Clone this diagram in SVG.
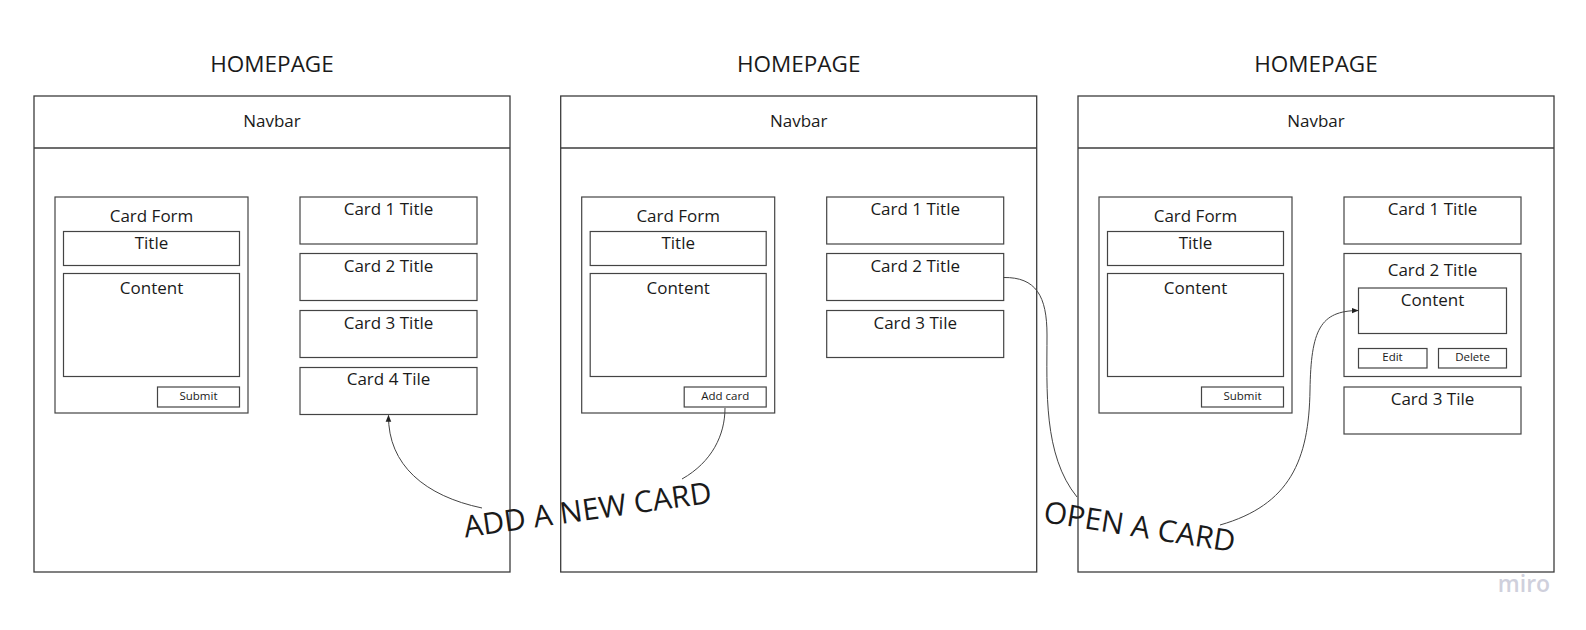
<svg xmlns="http://www.w3.org/2000/svg" width="1586" height="630" viewBox="0 0 1586 630">
<defs>
<style>
.frame{fill:#fff;stroke:#3c3c3c;stroke-width:1.3}
.box{fill:#fff;stroke:#444;stroke-width:1.2}
.t{font-family:"Open Sans","Liberation Sans",sans-serif;fill:#1a1a1a;text-anchor:middle}
.h{font-size:22.5px}
.m{font-size:17px}
.s{font-size:11.5px}
.big{font-size:30px}
.conn{fill:none;stroke:#444;stroke-width:1}
</style>
<marker id="arr" viewBox="0 0 10 10" refX="9" refY="5" markerWidth="7" markerHeight="7" orient="auto" markerUnits="userSpaceOnUse">
<path d="M0,1 L10,5 L0,9 z" fill="#222"/>
</marker>
</defs>
<rect width="1586" height="630" fill="#fff"/>

<!-- Panel 1 -->
<g id="panel1">
<text class="t h" x="272" y="72">HOMEPAGE</text>
<g id="p1-page"><rect class="frame" x="34" y="96" width="476" height="476"/><line class="frame" x1="34" y1="148" x2="510" y2="148"/><text class="t m" x="272" y="127">Navbar</text></g>
<g id="p1-form"><rect class="box" x="55" y="197" width="193" height="216"/><text class="t m" x="151.5" y="222">Card Form</text></g>
<g id="p1-title"><rect class="box" x="63.5" y="231.5" width="176" height="34"/><text class="t m" x="151.5" y="249">Title</text></g>
<g id="p1-content"><rect class="box" x="63.5" y="273.5" width="176" height="103"/><text class="t m" x="151.5" y="294">Content</text></g>
<g id="p1-submit"><rect class="box" x="157.5" y="387" width="82" height="20"/><text class="t s" x="198.5" y="400">Submit</text></g>
<g id="p1-card1"><rect class="box" x="300" y="197" width="177" height="47"/><text class="t m" x="388.5" y="215">Card 1 Title</text></g>
<g id="p1-card2"><rect class="box" x="300" y="253.5" width="177" height="47"/><text class="t m" x="388.5" y="272">Card 2 Title</text></g>
<g id="p1-card3"><rect class="box" x="300" y="310.5" width="177" height="47"/><text class="t m" x="388.5" y="329">Card 3 Title</text></g>
<g id="p1-card4"><rect class="box" x="300" y="367.5" width="177" height="47"/><text class="t m" x="388.5" y="385">Card 4 Tile</text></g>
</g>

<!-- Panel 2 -->
<g id="panel2" transform="translate(526.7,0)">
<text class="t h" x="272" y="72">HOMEPAGE</text>
<g id="p2-page"><rect class="frame" x="34" y="96" width="476" height="476"/><line class="frame" x1="34" y1="148" x2="510" y2="148"/><text class="t m" x="272" y="127">Navbar</text></g>
<g id="p2-form"><rect class="box" x="55" y="197" width="193" height="216"/><text class="t m" x="151.5" y="222">Card Form</text></g>
<g id="p2-title"><rect class="box" x="63.5" y="231.5" width="176" height="34"/><text class="t m" x="151.5" y="249">Title</text></g>
<g id="p2-content"><rect class="box" x="63.5" y="273.5" width="176" height="103"/><text class="t m" x="151.5" y="294">Content</text></g>
<g id="p2-addcard"><rect class="box" x="157.5" y="387" width="82" height="20"/><text class="t s" x="198.5" y="400">Add card</text></g>
<g id="p2-card1"><rect class="box" x="300" y="197" width="177" height="47"/><text class="t m" x="388.5" y="215">Card 1 Title</text></g>
<g id="p2-card2"><rect class="box" x="300" y="253.5" width="177" height="47"/><text class="t m" x="388.5" y="272">Card 2 Title</text></g>
<g id="p2-card3"><rect class="box" x="300" y="310.5" width="177" height="47"/><text class="t m" x="388.5" y="329">Card 3 Tile</text></g>
</g>

<!-- Panel 3 -->
<g id="panel3" transform="translate(1044,0)">
<text class="t h" x="272" y="72">HOMEPAGE</text>
<g id="p3-page"><rect class="frame" x="34" y="96" width="476" height="476"/><line class="frame" x1="34" y1="148" x2="510" y2="148"/><text class="t m" x="272" y="127">Navbar</text></g>
<g id="p3-form"><rect class="box" x="55" y="197" width="193" height="216"/><text class="t m" x="151.5" y="222">Card Form</text></g>
<g id="p3-title"><rect class="box" x="63.5" y="231.5" width="176" height="34"/><text class="t m" x="151.5" y="249">Title</text></g>
<g id="p3-content"><rect class="box" x="63.5" y="273.5" width="176" height="103"/><text class="t m" x="151.5" y="294">Content</text></g>
<g id="p3-submit"><rect class="box" x="157.5" y="387" width="82" height="20"/><text class="t s" x="198.5" y="400">Submit</text></g>
<g id="p3-card1"><rect class="box" x="300" y="197" width="177" height="47"/><text class="t m" x="388.5" y="215">Card 1 Title</text></g>
<g id="p3-card2"><rect class="box" x="300" y="253.5" width="177" height="123"/><text class="t m" x="388.5" y="276">Card 2 Title</text></g>
<g id="p3-card2-content"><rect class="box" x="314.5" y="288" width="148" height="45.5"/><text class="t m" x="388.5" y="305.5">Content</text></g>
<g id="p3-edit"><rect class="box" x="314.5" y="348.5" width="68.5" height="19.5"/><text class="t s" x="348.5" y="361">Edit</text></g>
<g id="p3-delete"><rect class="box" x="394.5" y="348.5" width="68" height="19.5"/><text class="t s" x="428.5" y="361">Delete</text></g>
<g id="p3-card3"><rect class="box" x="300" y="387" width="177" height="47"/><text class="t m" x="388.5" y="405">Card 3 Tile</text></g>
</g>

<!-- Connectors -->
<g id="connectors">
<path class="conn" d="M725 408 C725 435 712 462 682 479"/>
<path class="conn" d="M482 508 C425 496 388 465 388.5 415.5" marker-end="url(#arr)"/>
<text class="t big" transform="translate(589,520) rotate(-8)" x="0" y="0">ADD A NEW CARD</text>
<path class="conn" d="M1003.5 277.5 C1036 277 1047 296 1047 335 C1047 390 1043 455 1077 497"/>
<path class="conn" d="M1220 525 C1290 505 1309 460 1310 390 C1311 330 1320 311 1358 310.5" marker-end="url(#arr)"/>
<text class="t big" transform="translate(1138,537) rotate(9)" x="0" y="0">OPEN A CARD</text>
</g>

<text x="1524" y="592" style="font-family:'Open Sans','Liberation Sans',sans-serif;font-size:23px;font-weight:600;fill:#cfd0dc;text-anchor:middle">miro</text>
</svg>
